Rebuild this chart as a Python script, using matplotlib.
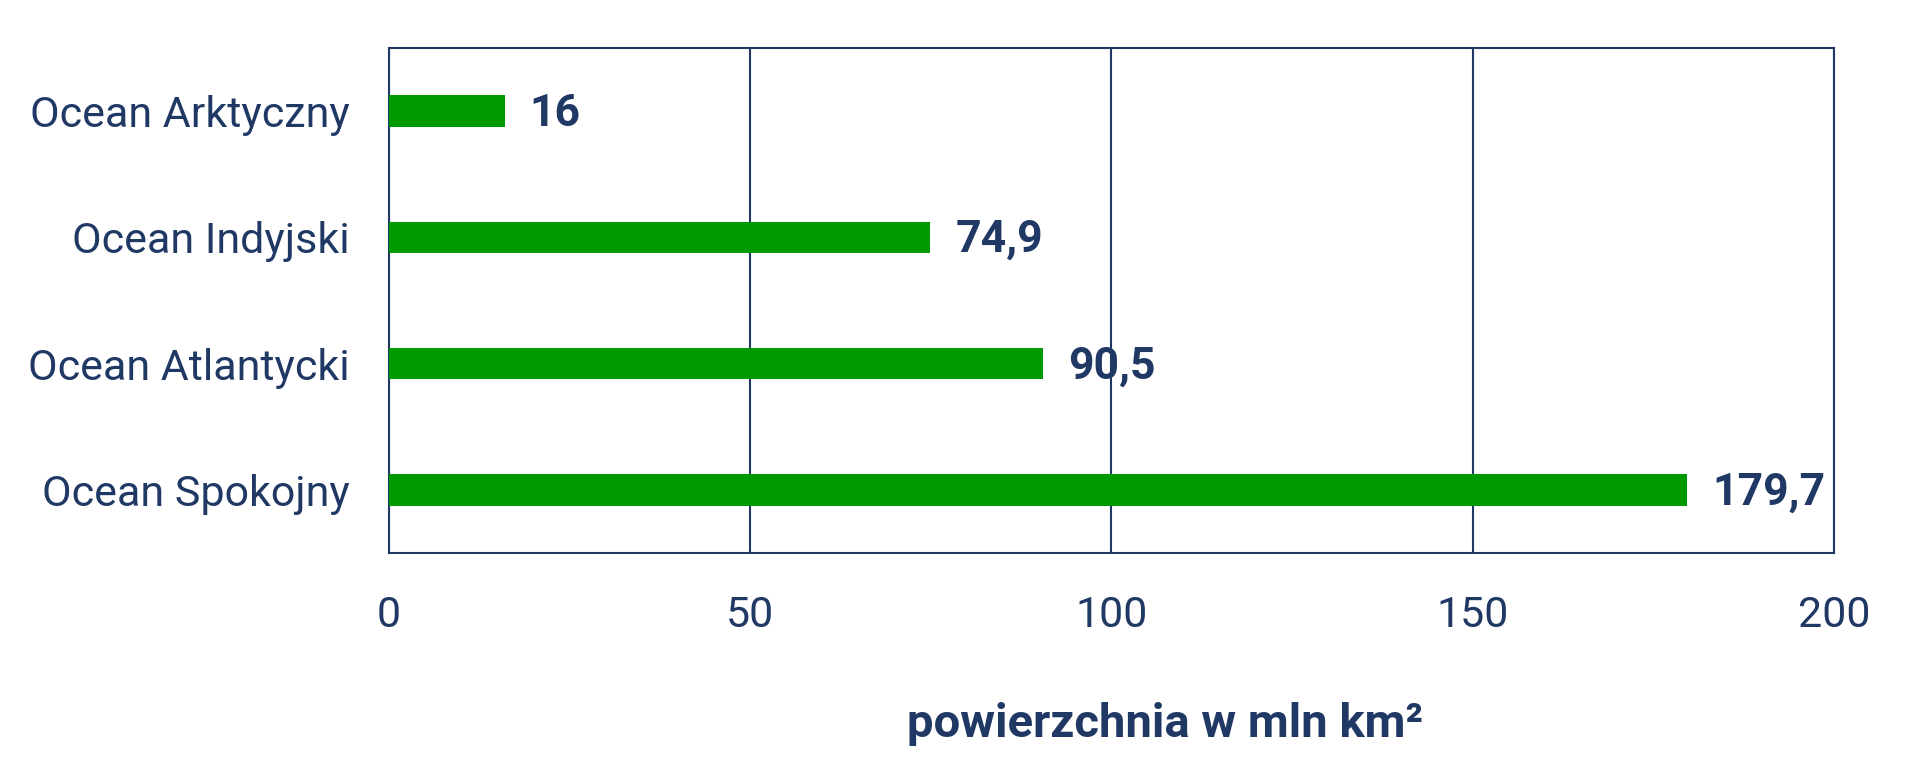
import matplotlib.pyplot as plt
from matplotlib import font_manager

names = ['Ocean Arktyczny', 'Ocean Indyjski', 'Ocean Atlantycki', 'Ocean Spokojny']
values = [16, 74.9, 90.5, 179.7]
labels = ['16', '74,9', '90,5', '179,7']
xticks = [0, 50, 100, 150, 200]

navy = '#1f3864'
green = '#009900'

avail = set(f.name for f in font_manager.fontManager.ttflist)
fam = [f for f in ['Roboto', 'Liberation Sans', 'DejaVu Sans'] if f in avail]
plt.rcParams['font.family'] = fam

fig = plt.figure(figsize=(19.2, 7.59), dpi=100)
ax = fig.add_axes([0.2026, 0.2714, 0.7526, 0.6654])

ypos = list(range(len(names)))
ax.barh(ypos, values, height=0.25, color=green, zorder=3)
for y, v, t in zip(ypos, values, labels):
    ax.annotate(t, (v, y), xytext=(18, -2), textcoords='offset points',
                va='center', ha='left', fontsize=32, fontweight='bold', color=navy)

ax.set_xlim(0, 200)
ax.set_ylim(3.5, -0.5)
ax.set_yticks(ypos)
ax.set_yticklabels(names)
ax.set_xticks(xticks)
ax.set_xticklabels([str(x) for x in xticks])
ax.tick_params(axis='both', length=0, labelsize=31, colors=navy)
ax.tick_params(axis='x', pad=30)
ax.tick_params(axis='y', pad=28)
ax.grid(axis='x', color=navy, linewidth=1.5, zorder=1)
for s in ax.spines.values():
    s.set_color(navy)
    s.set_linewidth(1.5)

fig.text(0.607, 0.046, 'powierzchnia w mln km²', ha='center', va='center',
         fontsize=34, fontweight='bold', color=navy)

fig.savefig('out.png', dpi=100)
